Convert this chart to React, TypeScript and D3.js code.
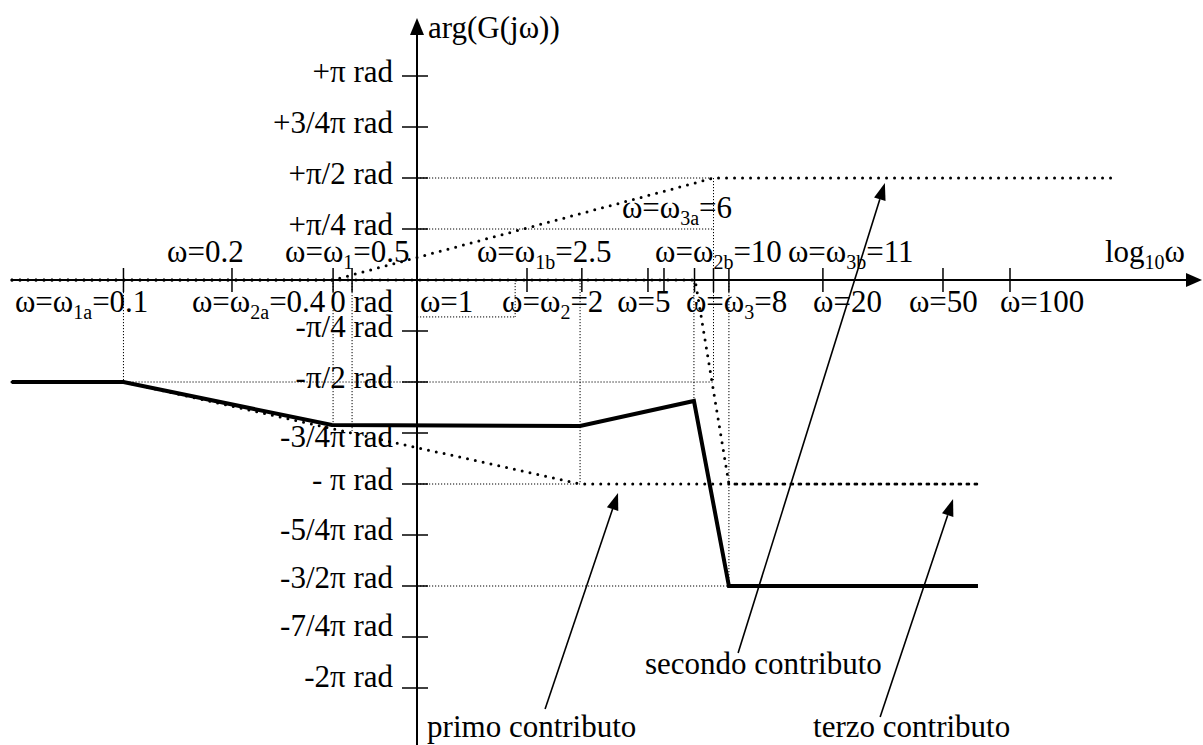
import React, { useRef, useEffect } from "react";
import * as d3 from "d3";

// x values are positions along the log10(ω) axis as drawn, y values are phase in units of π rad

const phaseTicks = [1, 0.75, 0.5, 0.25, 0, -0.25, -0.5, -0.75, -1, -1.25, -1.5, -1.75, -2];
const phaseLabels = [
  "+π rad", "+3/4π rad", "+π/2 rad", "+π/4 rad", "0 rad", "-π/4 rad", "-π/2 rad",
  "-3/4π rad", "- π rad", "-5/4π rad", "-3/2π rad", "-7/4π rad", "-2π rad",
];

const omegaTicks = [-0.99, -0.624, -0.283, -0.219, 0.371, 0.556, 0.779, 0.833, 0.936, 1.0, 1.052, 1.369, 1.774, 2.0];

const omegaLabels = [
  { pre: "ω=ω", sub: "1a", post: "=0.1", at: -1.356, row: "below" },
  { pre: "ω=0.2", sub: "", post: "", at: -0.843, row: "above" },
  { pre: "ω=ω", sub: "1", post: "=0.5", at: -0.445, row: "above" },
  { pre: "ω=ω", sub: "2a", post: "=0.4", at: -0.759, row: "below" },
  { pre: "ω=1", sub: "", post: "", at: 0.01, row: "below" },
  { pre: "ω=ω", sub: "1b", post: "=2.5", at: 0.202, row: "above" },
  { pre: "ω=ω", sub: "2", post: "=2", at: 0.287, row: "below" },
  { pre: "ω=5", sub: "", post: "", at: 0.675, row: "below" },
  { pre: "ω=ω", sub: "2b", post: "=10", at: 0.803, row: "above" },
  { pre: "ω=ω", sub: "3", post: "=8", at: 0.907, row: "below" },
  { pre: "ω=ω", sub: "3b", post: "=11", at: 1.251, row: "above" },
  { pre: "ω=20", sub: "", post: "", at: 1.336, row: "below" },
  { pre: "ω=50", sub: "", post: "", at: 1.659, row: "below" },
  { pre: "ω=100", sub: "", post: "", at: 1.966, row: "below" },
  { pre: "log", sub: "10", post: "ω", at: 2.32, row: "above" },
];
const omega3aLabel = { pre: "ω=ω", sub: "3a", post: "=6", at: 0.691, phase: 0.304 };

// asymptotic phase plots
const totalPhase = [[-1.366, -0.5], [-0.99, -0.5], [-0.287, -0.711], [0.55, -0.716], [0.934, -0.593], [1.052, -1.5], [1.892, -1.5]];
const firstContribution = [[-1.366, -0.5], [-0.99, -0.5], [0.55, -1], [1.906, -1]];
const secondContribution = [[-1.366, 0], [-0.283, 0], [1.0, 0.5], [2.364, 0.5]];
const thirdContribution = [[-1.366, 0], [0.938, 0], [1.052, -1], [1.906, -1]];

// thin dotted reference lines
const guideLines = [
  [[0, 0.5], [1.0, 0.5]],
  [[0, 0.25], [1.0, 0.25]],
  [[1.0, 0.5], [1.0, -0.5]],
  [[-0.99, -0.5], [1.0, -0.5]],
  [[-0.99, 0], [-0.99, -0.5]],
  [[-0.283, 0], [-0.283, -0.711]],
  [[-0.219, 0], [-0.219, -0.74]],
  [[0.331, 0], [0.331, -0.181]],
  [[0, -0.181], [0.331, -0.181]],
  [[0.55, 0], [0.55, -1]],
  [[0, -1], [0.55, -1]],
  [[0.934, 0], [0.934, -0.593]],
  [[1.052, 0], [1.052, -1.5]],
  [[0, -1.5], [1.052, -1.5]],
];

const annotations = [
  { text: "primo contributo", at: [0.034, -2.24], tail: [0.432, -2.103], tip: [0.678, -1.044] },
  { text: "secondo contributo", at: [0.769, -1.931], tail: [1.083, -1.828], tip: [1.578, 0.475] },
  { text: "terzo contributo", at: [1.336, -2.24], tail: [1.562, -2.142], tip: [1.808, -1.074] },
];

const W = 1203;
const H = 745;

// vertical nudges of some phase labels relative to their tick (px)
const labelShift = { "-0.75": 14, "-1.25": 5, "-1.5": 2, "-1.75": -1, "-2": -1 };

const App = () => {
  const svgRef = useRef<SVGSVGElement>(null);

  useEffect(() => {
    const svg = d3.select(svgRef.current).attr("width", W).attr("height", H);
    svg.selectAll("*").remove();

    const font = '"Liberation Serif", "DejaVu Serif", "Times New Roman", serif';
    const fs = 31;
    const subFs = 20;

    const x = d3.scaleLinear().domain([0, 2]).range([417, 1010]);
    const y = d3.scaleLinear().domain([-2, 1]).range([688, 76]);
    const x0 = x(0);
    const y0 = y(0);

    const line = d3
      .line<number[]>()
      .x((d) => x(d[0]))
      .y((d) => y(d[1]));

    const g = svg.append("g");

    const addText = (px, py, pre, sub, post, anchor = "start") => {
      const t = g
        .append("text")
        .attr("x", px)
        .attr("y", py)
        .style("font-family", font)
        .style("font-size", fs + "px")
        .attr("fill", "#000")
        .attr("text-anchor", anchor);
      t.append("tspan").text(pre);
      if (sub) {
        t.append("tspan").style("font-size", subFs + "px").attr("dy", 7).text(sub);
        t.append("tspan").attr("dy", -7).text(post);
      }
    };

    // guides
    guideLines.forEach((d) => {
      g.append("path")
        .attr("d", line(d))
        .attr("fill", "none")
        .attr("stroke", "#000")
        .attr("stroke-width", 1)
        .attr("stroke-dasharray", "1.2,1.8");
    });

    // axes
    g.append("line")
      .attr("x1", 12)
      .attr("x2", W - 14)
      .attr("y1", y0)
      .attr("y2", y0)
      .attr("stroke", "#000")
      .attr("stroke-width", 2);
    g.append("path")
      .attr("d", `M${W - 1},${y0} L${W - 17},${y0 - 7} L${W - 17},${y0 + 7} Z`)
      .attr("fill", "#000");
    g.append("line")
      .attr("x1", x0)
      .attr("x2", x0)
      .attr("y1", 30)
      .attr("y2", H)
      .attr("stroke", "#000")
      .attr("stroke-width", 2);
    g.append("path")
      .attr("d", `M${x0},18 L${x0 - 7},35 L${x0 + 7},35 Z`)
      .attr("fill", "#000");

    // phase ticks
    g.selectAll(".ytick")
      .data(phaseTicks)
      .enter()
      .append("line")
      .attr("class", "ytick")
      .attr("x1", x0 - 15)
      .attr("x2", x0 + 11)
      .attr("y1", (d) => y(d))
      .attr("y2", (d) => y(d))
      .attr("stroke", "#000")
      .attr("stroke-width", 1.5);
    phaseTicks.forEach((v, i) => {
      const shift = labelShift[String(v)] ?? 6;
      const py = v === 0 ? y0 + 32 : y(v) + shift;
      addText(x0 - 24, py, phaseLabels[i], "", "", "end");
    });

    // omega ticks
    g.selectAll(".xtick")
      .data(omegaTicks)
      .enter()
      .append("line")
      .attr("class", "xtick")
      .attr("x1", (d) => x(d))
      .attr("x2", (d) => x(d))
      .attr("y1", y0 - 12)
      .attr("y2", y0 + 12)
      .attr("stroke", "#000")
      .attr("stroke-width", 1.5);

    // contributions (dotted)
    [firstContribution, secondContribution, thirdContribution].forEach((d) => {
      g.append("path")
        .attr("d", line(d))
        .attr("fill", "none")
        .attr("stroke", "#000")
        .attr("stroke-width", 3)
        .attr("stroke-linecap", "round")
        .attr("stroke-dasharray", "0,8");
    });

    // total phase
    g.append("path")
      .attr("d", line(totalPhase))
      .attr("fill", "none")
      .attr("stroke", "#000")
      .attr("stroke-width", 4)
      .attr("stroke-linejoin", "miter");

    // labels
    omegaLabels.forEach((l) => {
      const py = l.row === "above" ? y0 - 18 : y0 + 32;
      addText(x(l.at), py, l.pre, l.sub, l.post);
    });
    addText(x(omega3aLabel.at), y(omega3aLabel.phase), omega3aLabel.pre, omega3aLabel.sub, omega3aLabel.post);
    addText(x0 + 11, 38, "arg(G(jω))", "", "");

    // annotations
    annotations.forEach((a) => {
      addText(x(a.at[0]), y(a.at[1]), a.text, "", "");
      const tx = x(a.tip[0]);
      const ty = y(a.tip[1]);
      const sx = x(a.tail[0]);
      const sy = y(a.tail[1]);
      const len = Math.hypot(tx - sx, ty - sy);
      const ux = (tx - sx) / len;
      const uy = (ty - sy) / len;
      const hl = 17;
      const hw = 6;
      const bx = tx - ux * hl;
      const by = ty - uy * hl;
      g.append("line")
        .attr("x1", sx)
        .attr("y1", sy)
        .attr("x2", bx)
        .attr("y2", by)
        .attr("stroke", "#000")
        .attr("stroke-width", 1.6);
      g.append("path")
        .attr(
          "d",
          `M${tx},${ty} L${bx - uy * hw},${by + ux * hw} L${bx + uy * hw},${by - ux * hw} Z`
        )
        .attr("fill", "#000");
    });
  }, []);

  return (
    <svg
      ref={svgRef}
      style={{ position: "absolute", left: 0, top: 0, display: "block", background: "#fff" }}
    ></svg>
  );
};

export default App;
